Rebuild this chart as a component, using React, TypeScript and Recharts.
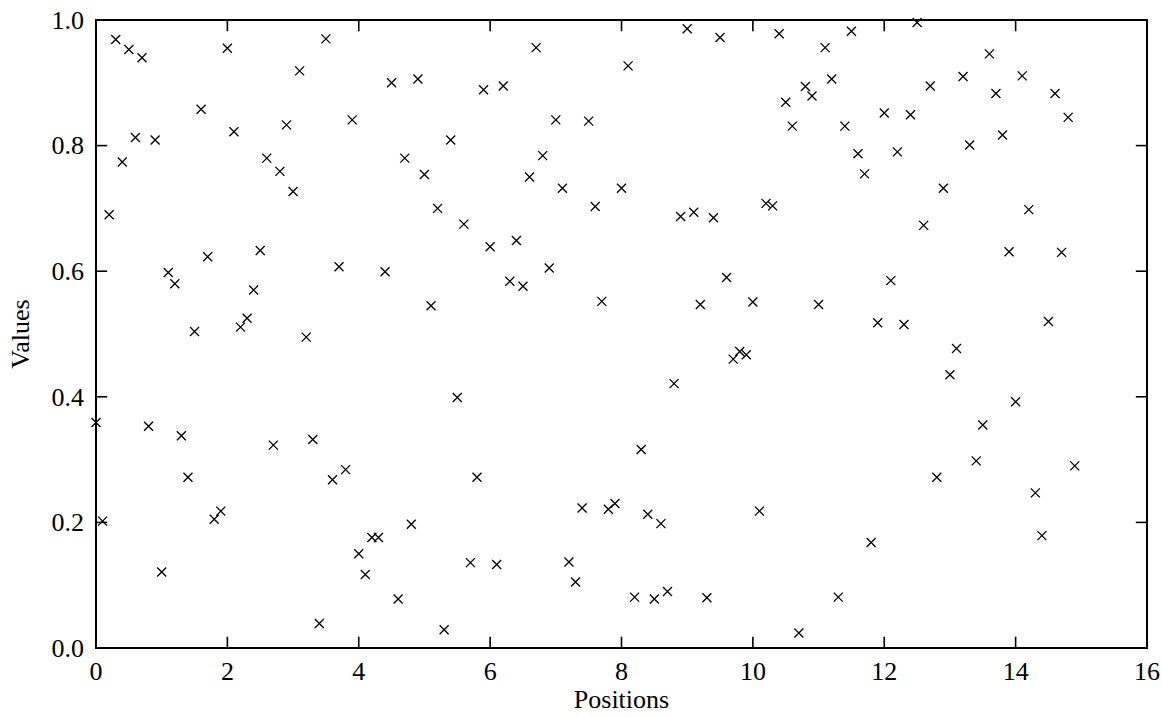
import React from 'react';
import { ScatterChart, Scatter, XAxis, YAxis, Label, ReferenceArea, ReferenceLine } from 'recharts';

const positions: number[] = [
  0.0, 0.1, 0.2, 0.3, 0.4, 0.5, 0.6, 0.7, 0.8, 0.9,
  1.0, 1.1, 1.2, 1.3, 1.4, 1.5, 1.6, 1.7, 1.8, 1.9,
  2.0, 2.1, 2.2, 2.3, 2.4, 2.5, 2.6, 2.7, 2.8, 2.9,
  3.0, 3.1, 3.2, 3.3, 3.4, 3.5, 3.6, 3.7, 3.8, 3.9,
  4.0, 4.1, 4.2, 4.3, 4.4, 4.5, 4.6, 4.7, 4.8, 4.9,
  5.0, 5.1, 5.2, 5.3, 5.4, 5.5, 5.6, 5.7, 5.8, 5.9,
  6.0, 6.1, 6.2, 6.3, 6.4, 6.5, 6.6, 6.7, 6.8, 6.9,
  7.0, 7.1, 7.2, 7.3, 7.4, 7.5, 7.6, 7.7, 7.8, 7.9,
  8.0, 8.1, 8.2, 8.3, 8.4, 8.5, 8.6, 8.7, 8.8, 8.9,
  9.0, 9.1, 9.2, 9.3, 9.4, 9.5, 9.6, 9.7, 9.8, 9.9,
  10.0, 10.1, 10.2, 10.3, 10.4, 10.5, 10.6, 10.7, 10.8, 10.9,
  11.0, 11.1, 11.2, 11.3, 11.4, 11.5, 11.6, 11.7, 11.8, 11.9,
  12.0, 12.1, 12.2, 12.3, 12.4, 12.5, 12.6, 12.7, 12.8, 12.9,
  13.0, 13.1, 13.2, 13.3, 13.4, 13.5, 13.6, 13.7, 13.8, 13.9,
  14.0, 14.1, 14.2, 14.3, 14.4, 14.5, 14.6, 14.7, 14.8, 14.9,
];

const values: number[] = [
  0.359, 0.202, 0.690, 0.969, 0.774, 0.953, 0.813, 0.940, 0.353, 0.809,
  0.121, 0.598, 0.580, 0.338, 0.272, 0.504, 0.858, 0.623, 0.205, 0.218,
  0.955, 0.822, 0.511, 0.525, 0.570, 0.633, 0.780, 0.323, 0.759, 0.833,
  0.727, 0.919, 0.495, 0.332, 0.039, 0.970, 0.268, 0.607, 0.284, 0.841,
  0.150, 0.117, 0.176, 0.176, 0.599, 0.900, 0.078, 0.780, 0.197, 0.906,
  0.754, 0.545, 0.700, 0.029, 0.809, 0.399, 0.675, 0.136, 0.272, 0.889,
  0.639, 0.133, 0.895, 0.584, 0.649, 0.576, 0.750, 0.956, 0.784, 0.605,
  0.841, 0.732, 0.137, 0.105, 0.223, 0.839, 0.703, 0.552, 0.221, 0.230,
  0.732, 0.927, 0.081, 0.316, 0.213, 0.078, 0.198, 0.090, 0.421, 0.687,
  0.986, 0.694, 0.547, 0.080, 0.685, 0.972, 0.590, 0.460, 0.472, 0.467,
  0.551, 0.218, 0.708, 0.704, 0.978, 0.869, 0.831, 0.024, 0.894, 0.879,
  0.547, 0.956, 0.906, 0.081, 0.831, 0.982, 0.787, 0.755, 0.168, 0.518,
  0.852, 0.585, 0.790, 0.515, 0.849, 0.996, 0.673, 0.895, 0.272, 0.732,
  0.435, 0.477, 0.910, 0.801, 0.298, 0.355, 0.946, 0.883, 0.817, 0.631,
  0.392, 0.911, 0.698, 0.247, 0.179, 0.520, 0.883, 0.630, 0.845, 0.290,
];

const xTicks: number[] = [0, 2, 4, 6, 8, 10, 12, 14, 16];
const yTicks: number[] = [0, 0.2, 0.4, 0.6, 0.8, 1.0];

const X_MIN = 0;
const X_MAX = 16;
const Y_MIN = 0;
const Y_MAX = 1;
// inward tick mark length, expressed in axis units (about 11 px)
const X_TICK_LEN = 0.018;
const Y_TICK_LEN = 0.17;

const data = positions.map((x, i) => ({ x, y: values[i] }));

const FONT = "'Liberation Serif', 'DejaVu Serif', serif";
const FS = 26;
const M_BOTTOM = 12;
const M_LEFT = 12;
const TICK_W = 1.6;

const BottomTick = (props: any) => {
  const { x, y, payload } = props;
  return (
    <text x={x} y={y} dy="0.75em" textAnchor="middle" fill="#000" fontSize={FS} fontFamily={FONT}>
      {String(payload.value)}
    </text>
  );
};

const LeftTick = (props: any) => {
  const { x, y, payload } = props;
  return (
    <text x={x} y={y} dy="0.34em" textAnchor="end" fill="#000" fontSize={FS} fontFamily={FONT}>
      {Number(payload.value).toFixed(1)}
    </text>
  );
};

const Cross = (props: any) => {
  const { cx, cy } = props;
  if (cx == null || cy == null) return <g />;
  const r = 4.5;
  return (
    <path
      d={`M${cx - r},${cy - r}L${cx + r},${cy + r}M${cx - r},${cy + r}L${cx + r},${cy - r}`}
      stroke="#000"
      strokeWidth={1.3}
      fill="none"
    />
  );
};

export default function App() {
  return (
    <div style={{ position: 'absolute', left: 0, top: 0, width: 1162, height: 717, background: '#fff' }}>
      <ScatterChart width={1162} height={717} margin={{ top: 20, right: 15, bottom: 0, left: 0 }}>
        <XAxis
          dataKey="x"
          type="number"
          domain={[X_MIN, X_MAX]}
          ticks={xTicks}
          interval={0}
          orientation="bottom"
          height={69}
          axisLine={false}
          tickLine={false}
          tickSize={0}
          tickMargin={M_BOTTOM}
          tick={<BottomTick />}
        >
          <Label value="Positions" position="insideBottom" offset={9} style={{ fill: '#000', fontSize: FS, fontFamily: FONT }} />
        </XAxis>
        <YAxis
          dataKey="y"
          type="number"
          domain={[Y_MIN, Y_MAX]}
          ticks={yTicks}
          interval={0}
          orientation="left"
          width={96}
          axisLine={false}
          tickLine={false}
          tickSize={0}
          tickMargin={M_LEFT}
          tick={<LeftTick />}
        >
          <Label
            value="Values"
            angle={-90}
            position="insideLeft"
            offset={20}
            style={{ fill: '#000', fontSize: FS, fontFamily: FONT, textAnchor: 'middle' }}
          />
        </YAxis>
        {xTicks.map((t) => (
          <ReferenceLine
            key={`xb${t}`}
            segment={[{ x: t, y: Y_MIN }, { x: t, y: Y_MIN + X_TICK_LEN }]}
            stroke="#000"
            strokeWidth={TICK_W}
            ifOverflow="visible"
          />
        ))}
        {xTicks.map((t) => (
          <ReferenceLine
            key={`xt${t}`}
            segment={[{ x: t, y: Y_MAX }, { x: t, y: Y_MAX - X_TICK_LEN }]}
            stroke="#000"
            strokeWidth={TICK_W}
            ifOverflow="visible"
          />
        ))}
        {yTicks.map((t) => (
          <ReferenceLine
            key={`yl${t}`}
            segment={[{ x: X_MIN, y: t }, { x: X_MIN + Y_TICK_LEN, y: t }]}
            stroke="#000"
            strokeWidth={TICK_W}
            ifOverflow="visible"
          />
        ))}
        {yTicks.map((t) => (
          <ReferenceLine
            key={`yr${t}`}
            segment={[{ x: X_MAX, y: t }, { x: X_MAX - Y_TICK_LEN, y: t }]}
            stroke="#000"
            strokeWidth={TICK_W}
            ifOverflow="visible"
          />
        ))}
        <ReferenceArea
          x1={X_MIN}
          x2={X_MAX}
          y1={Y_MIN}
          y2={Y_MAX}
          fill="none"
          fillOpacity={0}
          stroke="#000"
          strokeWidth={2}
          strokeOpacity={1}
          ifOverflow="visible"
        />
        <Scatter data={data} shape={Cross} isAnimationActive={false} />
      </ScatterChart>
    </div>
  );
}
